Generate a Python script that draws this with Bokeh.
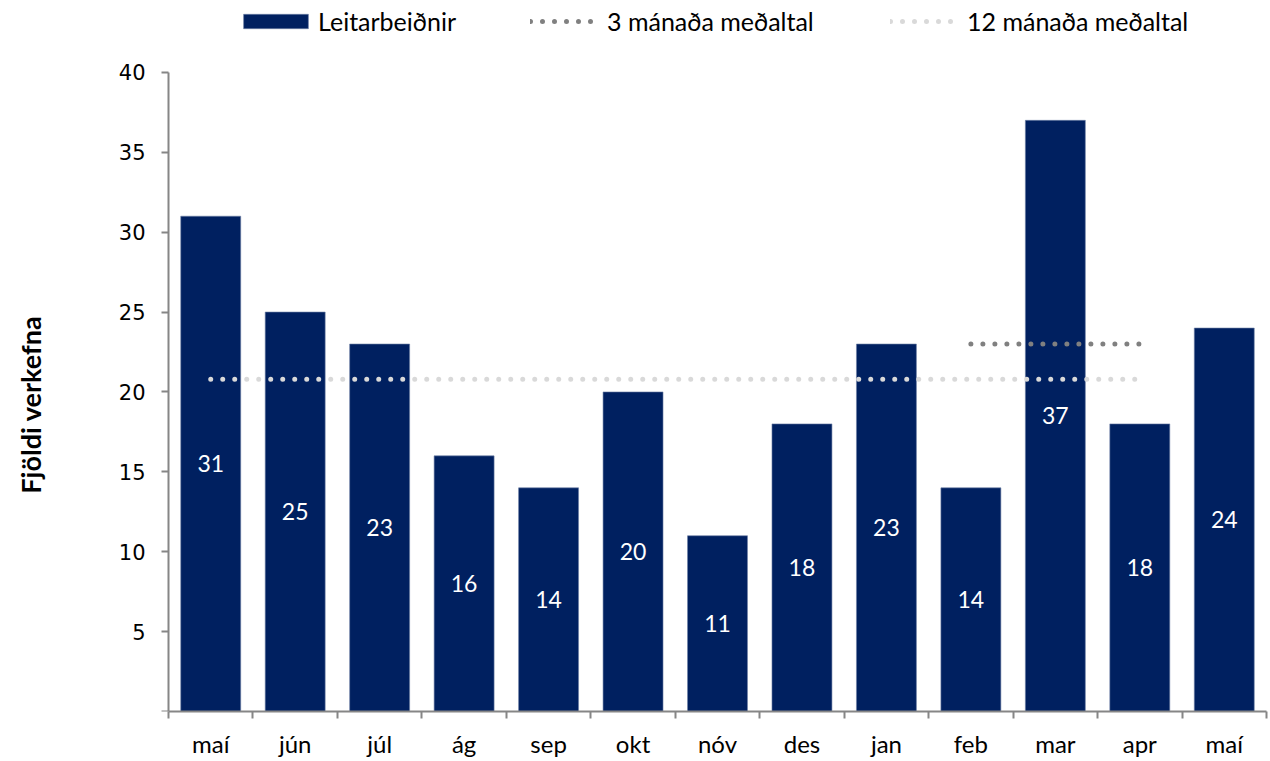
import math
from bokeh.plotting import figure
from bokeh.models import Range1d, FixedTicker, Legend, LegendItem, ColumnDataSource, LabelSet, Label
from bokeh.embed import file_html
from bokeh.resources import INLINE
from bokeh.core.properties import value

# ---- data ----
months = ["maí", "jún", "júl", "ág", "sep", "okt", "nóv", "des", "jan", "feb", "mar", "apr", "maí"]
requests = [31, 25, 23, 16, 14, 20, 11, 18, 23, 14, 37, 18, 24]
avg12_idx = [0, 1, 2, 3, 4, 5, 6, 7, 8, 9, 10, 11]
avg12_values = [20.8, 20.8, 20.8, 20.8, 20.8, 20.8, 20.8, 20.8, 20.8, 20.8, 20.8, 20.8]
avg3_idx = [9, 10, 11]
avg3_values = [23, 23, 23]
y_ticks = [0, 5, 10, 15, 20, 25, 30, 35, 40]
series_names = ["Leitarbeiðnir", "3 mánaða meðaltal", "12 mánaða meðaltal"]
y_title = "Fjöldi verkefna"

BAR = "#002060"
AVG3 = "#808080"
AVG12 = "#d9d9d9"
AXIS = "#868686"
CAL = "Lato"

n = len(months)
x = list(range(n))
src = ColumnDataSource(dict(
    x=x,
    top=requests,
    mid=[v / 2 for v in requests],
    lbl=[str(v) for v in requests],
))

# The frame covers the whole canvas above the x axis; both axes are bounded
# so that the plotted area is x in [-0.5, 12.5] and y in [0, 40].
FRAME_W = 1266
PX_PER_CAT = 1098 / n
x_start = (n - 0.5) - FRAME_W / PX_PER_CAT
p = figure(width=1268, height=760, output_backend="svg", toolbar_location=None,
           x_range=Range1d(x_start, n - 0.5), y_range=Range1d(0, 44.5),
           min_border_left=0, min_border_top=0, min_border_right=2, min_border_bottom=49)
p.outline_line_color = None
p.xgrid.grid_line_color = None
p.ygrid.grid_line_color = None
p.background_fill_color = "white"

bars = p.vbar(x="x", top="top", width=0.71, bottom=0, source=src,
              fill_color=BAR, line_color="#6f82a6", line_width=0.6)

l12 = p.line(avg12_idx, avg12_values, line_color=AVG12, line_width=5,
             line_dash="0 12", line_cap="round")
l3 = p.line(avg3_idx, avg3_values, line_color=AVG3, line_width=5,
            line_dash="0 12", line_cap="round")

labels = LabelSet(x="x", y="mid", text="lbl", source=src, text_color="white",
                  text_font=value(CAL), text_font_size="23px", text_align="center",
                  text_baseline="middle")
p.add_layout(labels)

# x axis: labels at centres, ticks at boundaries (minor ticks)
xa = p.xaxis[0]
xa.bounds = (-0.5, n - 0.5)
xa.ticker = FixedTicker(ticks=x, minor_ticks=[i - 0.5 for i in range(n + 1)])
xa.major_label_overrides = {i: m for i, m in enumerate(months)}
xa.major_tick_out = 0
xa.major_tick_in = 0
xa.minor_tick_out = 7
xa.minor_tick_in = 0
xa.minor_tick_line_color = AXIS
xa.minor_tick_line_width = 2
xa.axis_line_color = AXIS
xa.axis_line_width = 2
xa.major_label_text_font = CAL
xa.major_label_text_font_size = "24px"
xa.major_label_text_color = "black"
xa.major_label_standoff = 10

ya = p.yaxis[0]
ya.fixed_location = -0.5
ya.ticker = FixedTicker(ticks=y_ticks)
ya.bounds = (0, 40)
ya.major_label_overrides = {0: ""}
ya.minor_tick_line_color = None
ya.major_tick_out = 7
ya.major_tick_in = 0
ya.major_tick_line_color = AXIS
ya.major_tick_line_width = 2
ya.axis_line_color = AXIS
ya.axis_line_width = 2
ya.major_label_text_font = "DejaVu Sans"
ya.major_label_text_font_size = "21px"
ya.major_label_text_color = "black"
ya.major_label_standoff = 16

ytitle = Label(x=30, y=19.2, x_units="screen", y_units="data", text=y_title,
               angle=math.pi / 2, text_align="center", text_baseline="middle",
               text_font=CAL, text_font_size="27px", text_font_style="bold",
               text_color="black")
p.add_layout(ytitle)

def make_legend(item, loc, gw, gh, standoff):
    lg = Legend(items=[item], location=loc, orientation="horizontal",
                border_line_color=None, background_fill_alpha=0,
                padding=0, margin=0, spacing=0,
                glyph_width=gw, glyph_height=gh, label_standoff=standoff,
                label_text_font=CAL, label_text_font_size="25px",
                label_text_color="black", label_height=20)
    p.add_layout(lg, "center")

make_legend(LegendItem(label=series_names[0], renderers=[bars]), (235, 675), 81, 18, 2)
make_legend(LegendItem(label=series_names[1], renderers=[l3]), (530, 675), 65, 14, 12)
make_legend(LegendItem(label=series_names[2], renderers=[l12]), (890, 675), 65, 14, 12)

open("out.html", "w").write(file_html(p, INLINE))
